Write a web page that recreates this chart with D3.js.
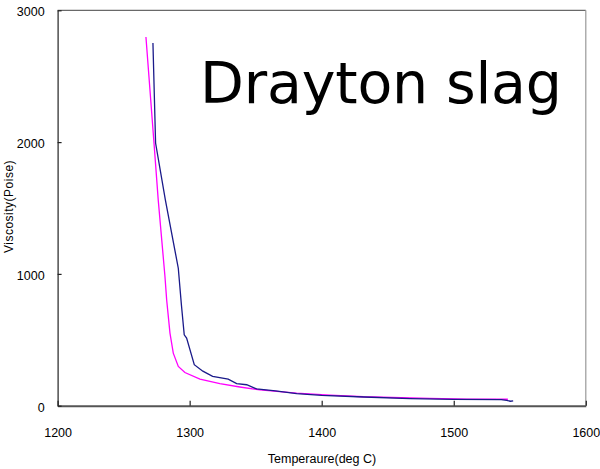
<!DOCTYPE html>
<html>
<head>
<meta charset="utf-8">
<script src="https://cdn.jsdelivr.net/npm/d3@7"></script>
<style>
  html, body { margin: 0; padding: 0; background: #fff; }
  svg { display: block; }
</style>
</head>
<body>
<div id="chart"></div>
<script>
// ---- data ----
const blueTemp = [1272.2, 1274.2, 1281.6, 1291.4, 1293.8, 1295.9, 1297.7, 1303.5, 1310, 1317.4, 1329.2, 1335.6, 1343.2, 1350.7, 1365, 1381, 1400, 1432, 1467, 1500, 1536, 1540, 1543, 1545];
const blueVisc = [2752, 1993, 1562, 1043, 760, 538, 513, 311, 262, 222, 202, 168, 159, 127, 112, 91, 79, 66, 54, 48, 46, 40, 34, 37];
const magentaTemp = [1266.9, 1273, 1276.2, 1281.3, 1282.6, 1285.1, 1287.6, 1291.4, 1296.4, 1307.8, 1322.9, 1338, 1353.2, 1381, 1406.3, 1431.4, 1481.9, 1510, 1541];
const magentaVisc = [2797, 1993, 1562, 980, 802, 551, 399, 298, 252, 202, 167, 142, 120, 96, 81, 68, 56, 50, 49];
const xTicks = [1200, 1300, 1400, 1500, 1600];
const yTicks = [0, 1000, 2000, 3000];
const xDomain = [1200, 1600];
const yDomain = [0, 3000];
const titleText = "Drayton slag";
const xLabel = "Temperaure(deg C)";
const yLabel = "Viscosity(Poise)";

(function () {
const W = 600, H = 469;
const mL = 57.6, mR = 585.8, mT = 10.3, mB = 405.7;

const svg = d3.select("#chart").append("svg").attr("width", W).attr("height", H);

const x = d3.scaleLinear().domain(xDomain).range([mL, mR]);
const y = d3.scaleLinear().domain(yDomain).range([mB, mT]);

// frame (top & right)
svg.append("line").attr("x1", mL).attr("x2", mR).attr("y1", mT).attr("y2", mT)
  .attr("stroke", "#444").attr("stroke-width", 1);
svg.append("line").attr("x1", mR).attr("x2", mR).attr("y1", mT).attr("y2", mB)
  .attr("stroke", "#999").attr("stroke-width", 1.2);

// series
const line = d3.line().x(d => x(d[0])).y(d => y(d[1]));
const magentaData = magentaTemp.map((t, i) => [t, magentaVisc[i]]);
const blueData = blueTemp.map((t, i) => [t, blueVisc[i]]);

svg.append("path").datum(magentaData).attr("d", line)
  .attr("fill", "none").attr("stroke", "#ff00ff").attr("stroke-width", 1.3);
svg.append("path").datum(blueData).attr("d", line)
  .attr("fill", "none").attr("stroke", "#1a1a8a").attr("stroke-width", 1.3);

// axes
const fontFam = "'Liberation Sans', Arial, sans-serif";
const xAxis = d3.axisBottom(x).tickValues(xTicks).tickFormat(d3.format("d"))
  .tickSizeInner(-5).tickSizeOuter(0).tickPadding(22);
const gx = svg.append("g").attr("transform", `translate(0,${mB})`).call(xAxis);
gx.select(".domain").attr("stroke", "#555").attr("stroke-width", 2);
gx.selectAll(".tick line").attr("stroke", "#222").attr("stroke-width", 1.2);
gx.selectAll("text").attr("font-family", fontFam).attr("font-size", 12.5).attr("fill", "#000");

const yAxis = d3.axisLeft(y).tickValues(yTicks).tickFormat(d3.format("d"))
  .tickSizeInner(-4).tickSizeOuter(0).tickPadding(13);
const gy = svg.append("g").attr("transform", `translate(${mL},0)`).call(yAxis);
gy.select(".domain").attr("stroke", "#222").attr("stroke-width", 1.2);
gy.selectAll(".tick line").attr("stroke", "#222").attr("stroke-width", 1.2);
gy.selectAll("text").attr("font-family", fontFam).attr("font-size", 12.5).attr("fill", "#000")
  .attr("dy", "0.45em");

// axis titles
svg.append("text").attr("x", 322).attr("y", 463).attr("text-anchor", "middle")
  .attr("font-family", fontFam).attr("font-size", 12.5).attr("fill", "#000").text(xLabel);
svg.append("text").attr("transform", "translate(13,206.5) rotate(-90)").attr("text-anchor", "middle")
  .attr("font-family", fontFam).attr("font-size", 12).attr("letter-spacing", 0.5)
  .attr("fill", "#000").text(yLabel);

// chart title
svg.append("text").attr("x", 381).attr("y", 103).attr("text-anchor", "middle")
  .attr("font-family", "'DejaVu Sans', sans-serif").attr("font-size", 57)
  .attr("textLength", 362).attr("lengthAdjust", "spacing")
  .attr("fill", "#000").text(titleText);
})();
</script>
</body>
</html>
